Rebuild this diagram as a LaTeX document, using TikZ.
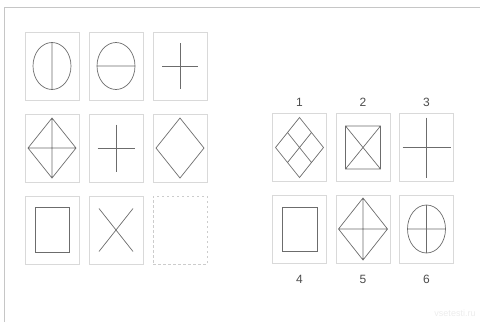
\documentclass[tikz,border=0pt]{standalone}
\usepackage{fontspec}
\setmainfont{Liberation Sans}
\usetikzlibrary{positioning}

\begin{document}
\begin{tikzpicture}[
      x=1pt, y=1pt,
      node distance=14pt and 10pt,
      cell/.style={rectangle, draw=gray!30, line width=0.8pt,
                   minimum width=54pt, minimum height=68pt,
                   inner sep=0pt, outer sep=0pt},
      blank/.style={cell, draw=gray!40, dash pattern=on 2.5pt off 2.5pt},
      fig/.style={draw=gray!85!black, line width=0.7pt},
      num/.style={font=\fontsize{12}{14}\selectfont, text=gray!60!black,
                  inner sep=0pt, text height=8.6pt, text depth=0pt}
    ]
    \useasboundingbox (0,0) rectangle (480,-322);
    \draw[gray!45, line width=1pt] (4,-322) -- (4,-7) -- (480,-7);

    % Question grid
    \node[cell] (q11) at (52,-66) {};
    \node[cell, right=of q11] (q12) {};
    \node[cell, right=of q12] (q13) {};
    \node[cell, below=of q11] (q21) {};
    \node[cell, right=of q21] (q22) {};
    \node[cell, right=of q22] (q23) {};
    \node[cell, below=of q21] (q31) {};
    \node[cell, right=of q31] (q32) {};
    \node[blank, right=of q32] (q33) {};

    \draw[fig, shift={(q11)}] (0,0) ellipse [x radius=19pt, y radius=23.5pt]
      (0,23.5) -- (0,-23.5);
    \draw[fig, shift={(q12)}] (0,0) ellipse [x radius=19pt, y radius=23.5pt]
      (-19,0) -- (19,0);
    \draw[fig, shift={(q13)}] (-18,0) -- (18,0) (0,23) -- (0,-23);
    \draw[fig, shift={(q21)}] (-24,0) -- (0,30) -- (24,0) -- (0,-30) -- cycle
      (-24,0) -- (24,0) (0,30) -- (0,-30);
    \draw[fig, shift={(q22)}] (-18.5,0) -- (18.5,0) (0,23.5) -- (0,-23.5);
    \draw[fig, shift={(q23)}] (-24,0) -- (0,30) -- (24,0) -- (0,-30) -- cycle;
    \draw[fig, shift={(q31)}] (-17,-22.5) rectangle (17,22.5);
    \draw[fig, shift={(q32)}] (-17,21.5) -- (17,-21.5) (-17,-21.5) -- (17,21.5);

    % Answers
    \node[cell] (a1) at (299.5,-147.5) {};
    \node[cell, right=9.5pt of a1] (a2) {};
    \node[cell, right=9.5pt of a2] (a3) {};
    \node[cell, below=13.5pt of a1] (a4) {};
    \node[cell, right=9.5pt of a4] (a5) {};
    \node[cell, right=9.5pt of a5] (a6) {};

    \node[num, above=6.5pt of a1] (n1) {1};
    \node[num, above=6.5pt of a2] (n2) {2};
    \node[num, above=6.5pt of a3] (n3) {3};
    \node[num, below=11.5pt of a4] (n4) {4};
    \node[num, below=11.5pt of a5] (n5) {5};
    \node[num, below=11.5pt of a6] (n6) {6};

    \draw[fig, shift={(a1)}] (-24,0) -- (0,30) -- (24,0) -- (0,-30) -- cycle
      (-12,15) -- (12,-15) (12,15) -- (-12,-15);
    \draw[fig, shift={(a2)}] (-17.5,-21.5) rectangle (17.5,21.5)
      (-17.5,-21.5) -- (17.5,21.5) (-17.5,21.5) -- (17.5,-21.5);
    \draw[fig, shift={(a3)}] (-24,0) -- (24,0) (0,30) -- (0,-30);
    \draw[fig, shift={(a4)}] (-17.5,-22) rectangle (17.5,22);
    \draw[fig, shift={(a5)}] (-24.5,0) -- (0,31) -- (24.5,0) -- (0,-31) -- cycle
      (-24.5,0) -- (24.5,0) (0,31) -- (0,-31);
    \draw[fig, shift={(a6)}] (0,0) ellipse [x radius=19pt, y radius=24pt]
      (-19,0) -- (19,0) (0,24) -- (0,-24);

    \node[font=\fontsize{9}{11}\selectfont, text=gray!15] (mark) at (455,-313) {vsetesti.ru};
  \end{tikzpicture}
\end{document}
